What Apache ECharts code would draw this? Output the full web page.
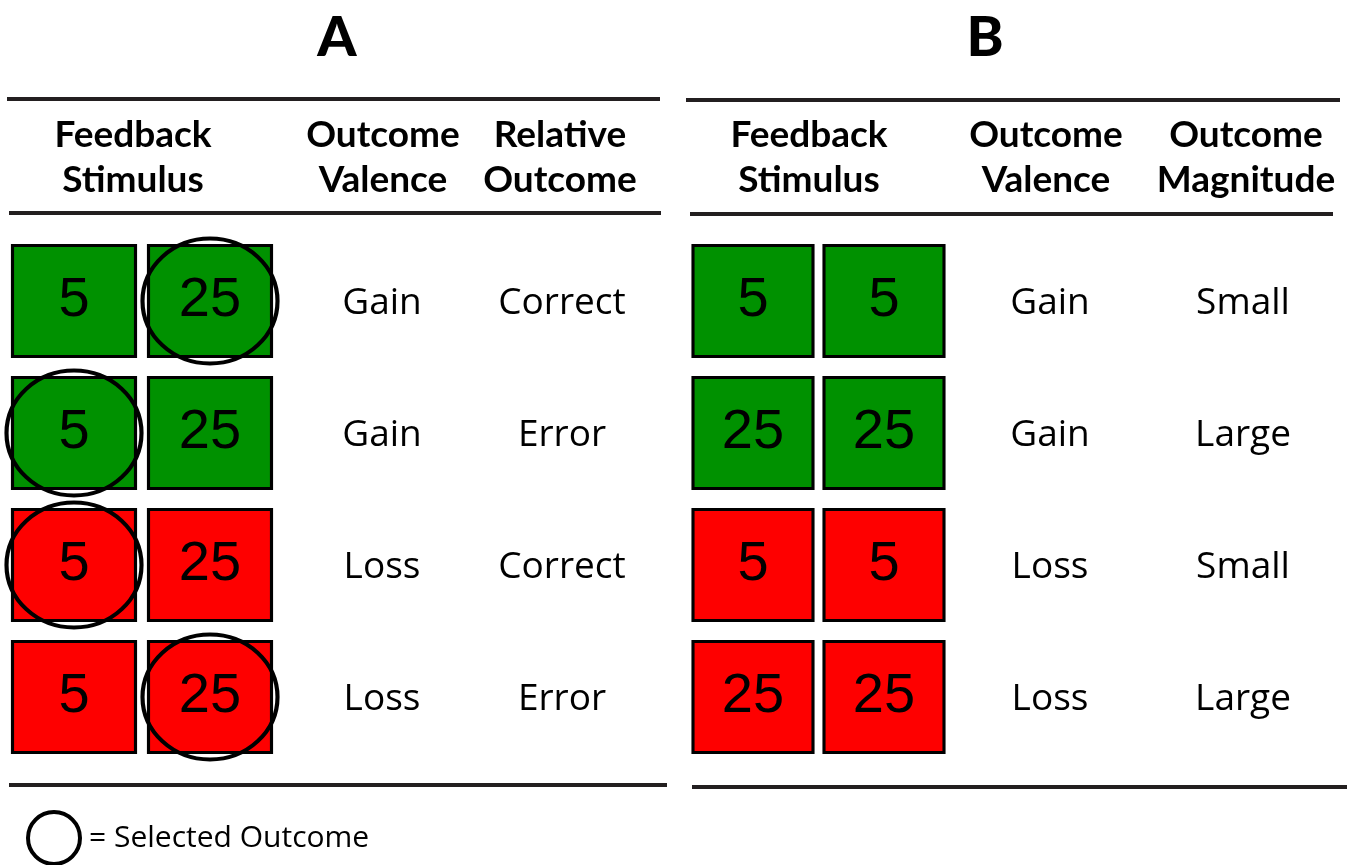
<!DOCTYPE html>
<html>
<head>
<meta charset="utf-8">
<title>Feedback stimuli</title>
<script src="https://cdn.jsdelivr.net/npm/echarts@6/dist/echarts.min.js"></script>
<style>
  html, body { margin: 0; padding: 0; background: #fff; }
  #chart { width: 1357px; height: 865px; }
</style>
</head>
<body>
<div id="chart"></div>
<script>
// rows of the two tables (top to bottom)
const rows = ['1', '2', '3', '4'];
const titles = ['A', 'B'];

// panel A
const headersA = ['Feedback\nStimulus', 'Outcome\nValence', 'Relative\nOutcome'];
const stimulusA = [[5, 25], [5, 25], [5, 25], [5, 25]];
const valenceA = ['Gain', 'Gain', 'Loss', 'Loss'];
const relativeA = ['Correct', 'Error', 'Correct', 'Error'];
const selectedA = [1, 0, 0, 1]; // which of the two squares got circled

// panel B
const headersB = ['Feedback\nStimulus', 'Outcome\nValence', 'Outcome\nMagnitude'];
const stimulusB = [[5, 5], [25, 25], [5, 5], [25, 25]];
const valenceB = ['Gain', 'Gain', 'Loss', 'Loss'];
const magnitudeB = ['Small', 'Large', 'Small', 'Large'];

const legendName = 'Selected Outcome';

// layout
const GREEN = '#009100';
const RED = '#fe0000';
const INK = '#231f20';
const HEAD_FONT = 'Lato';
const TEXT_FONT = 'Open Sans';
const panels = [
  { left: 0, width: 680, cols: [74, 210, 382, 562], head: [133, 383, 560], rect: [123, 111] },
  { left: 680, width: 677, cols: [73, 204, 370, 563], head: [129, 366, 566], rect: [120, 111] }
];

const chart = echarts.init(document.getElementById('chart'));

function buildSeries(idx, stim, valence, third, selected) {
  const p = panels[idx];
  const squares = [];
  const labels = [];
  const circles = [];
  stim.forEach((pair, i) => {
    pair.forEach((v, j) => {
      squares.push({
        value: [p.cols[j], i],
        name: String(v),
        itemStyle: { color: valence[i] === 'Gain' ? GREEN : RED }
      });
    });
    labels.push({ value: [p.cols[2], i], name: valence[i] });
    labels.push({ value: [p.cols[3], i], name: third[i] });
    if (selected) circles.push({ value: [p.cols[selected[i]], i] });
  });

  const list = [
    {
      type: 'scatter',
      xAxisIndex: idx,
      yAxisIndex: idx,
      symbol: 'rect',
      symbolSize: p.rect,
      data: squares,
      itemStyle: { borderColor: '#000', borderWidth: 3, opacity: 1 },
      label: {
        show: true,
        position: 'inside',
        formatter: '{b}',
        fontFamily: 'Liberation Sans',
        fontSize: 56,
        color: '#000'
      },
      emphasis: { disabled: true }
    },
    {
      type: 'scatter',
      xAxisIndex: idx,
      yAxisIndex: idx,
      symbolSize: 1,
      data: labels,
      itemStyle: { color: 'transparent', opacity: 1 },
      label: {
        show: true,
        position: 'inside',
        offset: [0, 2],
        formatter: '{b}',
        fontFamily: TEXT_FONT,
        fontSize: 37,
        color: '#000'
      },
      emphasis: { disabled: true }
    }
  ];
  if (selected) {
    list.push({
      name: legendName,
      type: 'scatter',
      xAxisIndex: idx,
      yAxisIndex: idx,
      symbol: 'circle',
      symbolSize: [135, 125],
      data: circles,
      itemStyle: { color: 'transparent', borderColor: '#000', borderWidth: 4, opacity: 1 },
      emphasis: { disabled: true }
    });
  }
  return list;
}

// horizontal rules of the tables
const rules = [
  [7, 99, 660], [9, 213, 661], [9, 785, 667],
  [686, 100, 1340], [690, 214, 1333], [692, 787, 1347]
];

const graphics = [];
rules.forEach(r => {
  graphics.push({
    type: 'line',
    shape: { x1: r[0], y1: r[1], x2: r[2], y2: r[1] },
    style: { stroke: INK, lineWidth: 4 }
  });
});
titles.forEach((t, k) => {
  graphics.push({
    type: 'text',
    x: k === 0 ? 337 : 985,
    y: 38,
    style: {
      text: t, align: 'center', verticalAlign: 'middle',
      fontFamily: HEAD_FONT, fontWeight: 900, fontSize: 56, fill: '#000'
    }
  });
});
[headersA, headersB].forEach((hs, k) => {
  hs.forEach((h, j) => {
    graphics.push({
      type: 'text',
      x: panels[k].left + panels[k].head[j],
      y: 158,
      style: {
        text: h, align: 'center', verticalAlign: 'middle',
        fontFamily: HEAD_FONT, fontWeight: 'bold', fontSize: 37,
        lineHeight: 45, fill: '#000'
      }
    });
  });
});

const option = {
  animation: false,
  backgroundColor: '#fff',
  legend: {
    data: [legendName],
    left: 26,
    top: 810,
    padding: 0,
    itemWidth: 52,
    itemHeight: 52,
    selectedMode: false,
    formatter: '= {name}',
    itemStyle: { borderWidth: 4, borderColor: '#000', color: 'transparent', opacity: 1 },
    textStyle: { fontFamily: TEXT_FONT, fontSize: 30, color: '#000', padding: [0, 0, 0, 4] }
  },
  grid: panels.map(p => ({ left: p.left, width: p.width, top: 235, height: 528 })),
  xAxis: panels.map((p, k) => ({
    type: 'value', gridIndex: k, min: 0, max: p.width, show: false
  })),
  yAxis: panels.map((p, k) => ({
    type: 'category', gridIndex: k, data: rows, inverse: true, show: false
  })),
  series: [
    ...buildSeries(0, stimulusA, valenceA, relativeA, selectedA),
    ...buildSeries(1, stimulusB, valenceB, magnitudeB, null)
  ],
  graphic: graphics
};

chart.setOption(option);
</script>
</body>
</html>
